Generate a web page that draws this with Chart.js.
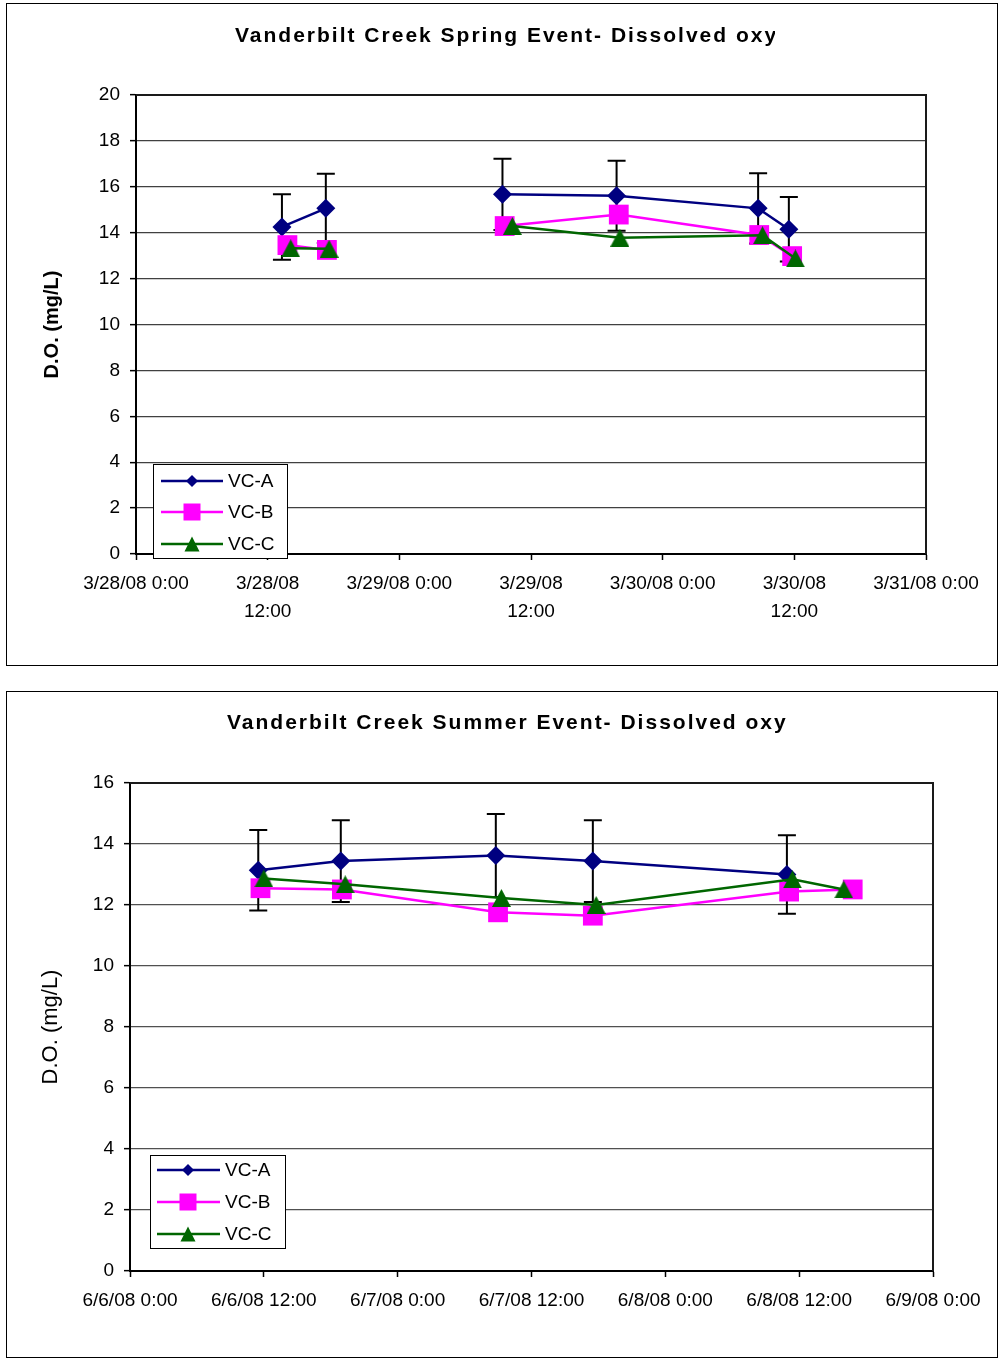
<!DOCTYPE html>
<html><head><meta charset="utf-8">
<script src="https://cdn.jsdelivr.net/npm/chart.js@4.4.1/dist/chart.umd.min.js"></script>
<style>
html,body{margin:0;padding:0;background:#fff;}
body{width:1003px;height:1358px;position:relative;overflow:hidden;}
.box{position:absolute;border:1px solid #000;background:#fff;}
#b1{left:6px;top:3px;width:990px;height:661px;}
#b2{left:6px;top:691px;width:990px;height:665px;}
canvas{display:block;}
</style></head><body>
<div class="box" id="b1"><canvas id="c1" width="990" height="661"></canvas></div>
<div class="box" id="b2"><canvas id="c2" width="990" height="665"></canvas></div>
<script>
// ---------- DATA ----------
const seriesNames = ['VC-A', 'VC-B', 'VC-C'];
const seriesColors = ['#000080', '#FF00FF', '#006600'];

// Spring event (x = hours since 3/28/08 0:00)
const springTitle = 'Vanderbilt Creek Spring Event- Dissolved oxygen';
const springTickHours = [0, 12, 24, 36, 48, 60, 72];
const springTickLabels = ['3/28/08 0:00', ['3/28/08', '12:00'], '3/29/08 0:00', ['3/29/08', '12:00'], '3/30/08 0:00', ['3/30/08', '12:00'], '3/31/08 0:00'];
const springA_hours = [13.3, 17.3, 33.4, 43.8, 56.7, 59.5];
const springA_do    = [14.25, 15.06, 15.67, 15.61, 15.06, 14.15];
const springA_err   = [1.43, 1.51, 1.55, 1.53, 1.53, 1.41];
const springB_hours = [13.8, 17.4, 33.6, 44.0, 56.8, 59.8];
const springB_do    = [13.46, 13.25, 14.29, 14.79, 13.90, 12.98];
const springC_hours = [14.1, 17.6, 34.3, 44.1, 57.1, 60.1];
const springC_do    = [13.32, 13.30, 14.29, 13.78, 13.89, 12.88];
const springGapAfter = 1;   // no line between 2nd and 3rd sample (missing data)
const springYTicks  = [0, 2, 4, 6, 8, 10, 12, 14, 16, 18, 20];

// Summer event (x = hours since 6/6/08 0:00)
const summerTitle = 'Vanderbilt Creek Summer Event- Dissolved oxygen';
const summerTickHours = [0, 12, 24, 36, 48, 60, 72];
const summerTickLabels = ['6/6/08 0:00', '6/6/08 12:00', '6/7/08 0:00', '6/7/08 12:00', '6/8/08 0:00', '6/8/08 12:00', '6/9/08 0:00'];
const summerA_hours = [11.5, 18.9, 32.8, 41.5, 58.9];
const summerA_do    = [13.14, 13.44, 13.62, 13.44, 13.00];
const summerA_err   = [1.32, 1.34, 1.36, 1.34, 1.29];
const summerB_hours = [11.7, 19.0, 33.0, 41.5, 59.1, 64.8];
const summerB_do    = [12.55, 12.51, 11.76, 11.65, 12.44, 12.51];
const summerC_hours = [12.0, 19.3, 33.3, 41.8, 59.4, 64.0];
const summerC_do    = [12.87, 12.68, 12.23, 12.00, 12.84, 12.51];
const summerGapAfter = -1;  // fully connected
const summerYTicks  = [0, 2, 4, 6, 8, 10, 12, 14, 16];

const yAxisTitle = 'D.O. (mg/L)';

// ---------- HELPERS ----------
const FONT = 'Arial, "Liberation Sans", sans-serif';
Chart.defaults.font.family = FONT;
Chart.defaults.color = '#000';

function triCanvas(w, h, color) {
  const c = document.createElement('canvas');
  c.width = w; c.height = h;
  const g = c.getContext('2d');
  g.fillStyle = color;
  g.beginPath(); g.moveTo(w / 2, 0); g.lineTo(w, h); g.lineTo(0, h); g.closePath(); g.fill();
  return c;
}
const zip = (xs, ys) => xs.map((x, i) => ({ x: x, y: ys[i] }));

function makeDatasets(aH, aV, bH, bV, cH, cV, gapAfter) {
  const seg = { borderColor: c => (c.p0DataIndex === gapAfter ? 'rgba(0,0,0,0)' : undefined) };
  return [
    { label: seriesNames[0], data: zip(aH, aV), borderColor: seriesColors[0], backgroundColor: seriesColors[0],
      borderWidth: 2.5, pointStyle: 'rectRot', pointRadius: 9.5, pointBorderWidth: 0, order: 3, segment: seg },
    { label: seriesNames[1], data: zip(bH, bV), borderColor: seriesColors[1], backgroundColor: seriesColors[1],
      borderWidth: 2.5, pointStyle: 'rect', pointRadius: 14, pointBorderWidth: 0, order: 2, segment: seg },
    { label: seriesNames[2], data: zip(cH, cV), borderColor: seriesColors[2], backgroundColor: seriesColors[2],
      borderWidth: 2.5, pointStyle: triCanvas(19, 18, seriesColors[2]), pointRadius: 9, pointBorderWidth: 0, order: 1, segment: seg }
  ];
}

const decorPlugin = {
  id: 'decor',
  beforeDatasetsDraw(chart, args, opts) {
    const ctx = chart.ctx, ys = chart.scales.y;
    const meta = chart.getDatasetMeta(0);
    const vals = chart.data.datasets[0].data;
    ctx.save();
    ctx.strokeStyle = '#000'; ctx.lineWidth = 2;
    meta.data.forEach((pt, i) => {
      const e = opts.errors[i];
      const yt = ys.getPixelForValue(vals[i].y + e);
      const yb = ys.getPixelForValue(vals[i].y - e);
      ctx.beginPath();
      ctx.moveTo(pt.x, yt); ctx.lineTo(pt.x, yb);
      ctx.moveTo(pt.x - 9, yt); ctx.lineTo(pt.x + 9, yt);
      ctx.moveTo(pt.x - 9, yb); ctx.lineTo(pt.x + 9, yb);
      ctx.stroke();
    });
    ctx.restore();
  },
  afterDraw(chart, args, opts) {
    const ctx = chart.ctx, a = chart.chartArea;
    ctx.save();
    ctx.strokeStyle = '#1a1a1a'; ctx.lineWidth = 2;
    ctx.beginPath();
    ctx.moveTo(a.left, a.top); ctx.lineTo(a.right, a.top); ctx.lineTo(a.right, a.bottom);
    ctx.stroke();
    ctx.beginPath(); ctx.rect(0, 0, opts.titleClip, chart.height); ctx.clip();
    ctx.font = 'bold 21px ' + FONT;
    try { ctx.letterSpacing = '2px'; } catch (e) {}
    ctx.fillStyle = '#000'; ctx.textBaseline = 'middle'; ctx.textAlign = 'left';
    ctx.fillText(opts.title, opts.titleX, opts.titleY);
    ctx.restore();

    const L = opts.legend;
    ctx.save();
    ctx.fillStyle = '#fff'; ctx.fillRect(L.x, L.y, L.w, L.h);
    ctx.strokeStyle = '#000'; ctx.lineWidth = 1;
    ctx.strokeRect(L.x + 0.5, L.y + 0.5, L.w, L.h);
    chart.data.datasets.forEach((ds, i) => {
      const y = L.rows[i];
      ctx.strokeStyle = ds.borderColor; ctx.lineWidth = 2.5;
      ctx.beginPath(); ctx.moveTo(L.lx0, y); ctx.lineTo(L.lx1, y); ctx.stroke();
      ctx.fillStyle = ds.borderColor;
      const m = L.mx;
      ctx.beginPath();
      if (i === 0) { ctx.moveTo(m - 6, y); ctx.lineTo(m, y - 6); ctx.lineTo(m + 6, y); ctx.lineTo(m, y + 6); }
      else if (i === 1) { ctx.rect(m - 8.5, y - 8.5, 17, 17); }
      else { ctx.moveTo(m, y - 7.5); ctx.lineTo(m + 7.5, y + 7.5); ctx.lineTo(m - 7.5, y + 7.5); }
      ctx.closePath(); ctx.fill();
      ctx.fillStyle = '#000'; ctx.font = '19px ' + FONT;
      ctx.textBaseline = 'middle'; ctx.textAlign = 'left';
      ctx.fillText(ds.label, L.tx, y + 1);
    });
    ctx.restore();
  }
};

function makeChart(id, cfg) {
  const tickHours = cfg.tickHours, tickLabels = cfg.tickLabels;
  return new Chart(document.getElementById(id), {
    type: 'line',
    data: { datasets: cfg.datasets },
    plugins: [decorPlugin],
    options: {
      responsive: false, animation: false, devicePixelRatio: 1,
      layout: { padding: { top: cfg.padTop, right: cfg.padRight, left: 0, bottom: 0 } },
      plugins: {
        legend: { display: false }, tooltip: { enabled: false }, title: { display: false },
        decor: cfg.decor
      },
      scales: {
        x: {
          type: 'linear', min: tickHours[0], max: tickHours[tickHours.length - 1],
          afterBuildTicks: s => { s.ticks = tickHours.map(v => ({ value: v })); },
          afterFit: s => { s.height = cfg.xHeight; },
          ticks: { autoSkip: false, maxRotation: 0, minRotation: 0, padding: 10,
                   font: { size: 19, lineHeight: 1.47 }, color: '#000',
                   callback: (v, i) => tickLabels[i] },
          grid: { drawOnChartArea: false, drawTicks: true, tickLength: 6, tickColor: '#000', tickWidth: 1.5 },
          border: { display: true, color: '#000', width: 2 }
        },
        y: {
          min: cfg.yTicks[0], max: cfg.yTicks[cfg.yTicks.length - 1],
          afterBuildTicks: s => { s.ticks = cfg.yTicks.map(v => ({ value: v })); },
          afterFit: s => { s.width = cfg.yWidth; },
          ticks: { padding: 10, font: { size: 19 }, color: '#000' },
          grid: { color: cfg.gridColor, lineWidth: 1.3, drawTicks: true, tickLength: 6, tickColor: '#000', tickWidth: 1.5 },
          border: { display: true, color: '#000', width: 2 },
          title: { display: true, text: yAxisTitle, color: '#000',
                   font: cfg.yTitleFont, padding: { top: cfg.yTitlePad, bottom: 0 } }
        }
      }
    }
  });
}

makeChart('c1', {
  datasets: makeDatasets(springA_hours, springA_do, springB_hours, springB_do, springC_hours, springC_do, springGapAfter),
  tickHours: springTickHours, tickLabels: springTickLabels, yTicks: springYTicks,
  padTop: 91, padRight: 71, yWidth: 129, xHeight: 111, gridColor: '#404040',
  yTitleFont: { size: 20, weight: 'bold' }, yTitlePad: 33,
  decor: {
    errors: springA_err, title: springTitle, titleX: 228, titleY: 32, titleClip: 768,
    legend: { x: 146, y: 460, w: 134, h: 94, rows: [477, 508, 540], lx0: 154, lx1: 216, mx: 185, tx: 221 }
  }
});

makeChart('c2', {
  datasets: makeDatasets(summerA_hours, summerA_do, summerB_hours, summerB_do, summerC_hours, summerC_do, summerGapAfter),
  tickHours: summerTickHours, tickLabels: summerTickLabels, yTicks: summerYTicks,
  padTop: 91, padRight: 64, yWidth: 123, xHeight: 86, gridColor: '#505050',
  yTitleFont: { size: 22, weight: 'normal' }, yTitlePad: 31,
  decor: {
    errors: summerA_err, title: summerTitle, titleX: 220, titleY: 31, titleClip: 781,
    legend: { x: 143, y: 463, w: 135, h: 93, rows: [478, 510, 542], lx0: 150, lx1: 213, mx: 181, tx: 218 }
  }
});
</script>
</body></html>
